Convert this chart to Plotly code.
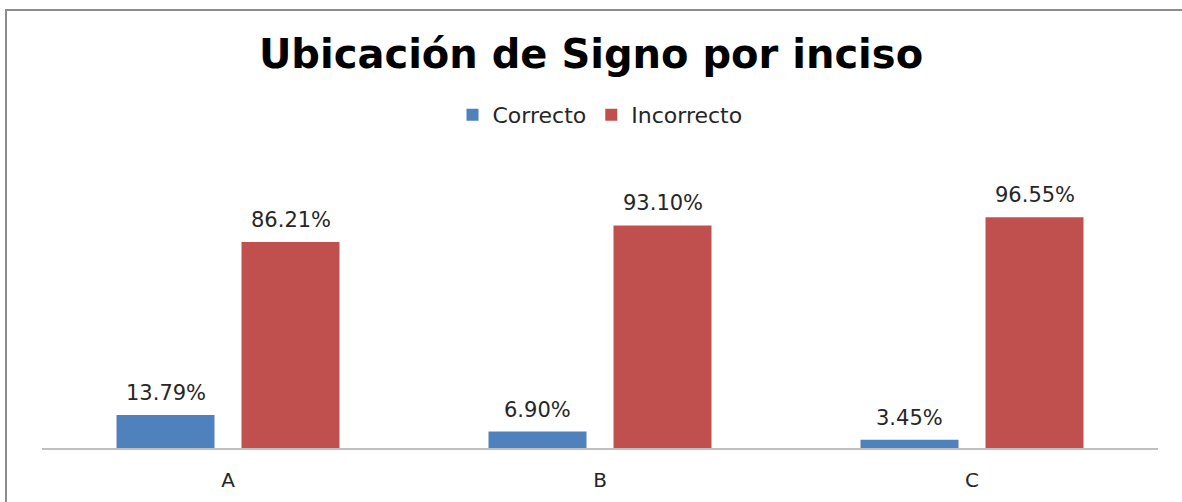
import plotly.graph_objects as go

categories = ["A", "B", "C"]
correcto = [13.79, 6.90, 3.45]
incorrecto = [86.21, 93.10, 96.55]
series_names = ["Correcto", "Incorrecto"]
colors = ["#4F81BD", "#C0504D"]

BARGAP = 0.328
GROUPGAP = 0.216
slot = (1 - BARGAP) / 2

fig = go.Figure()
annotations = []
for k, (name, vals, col) in enumerate(zip(series_names, [correcto, incorrecto], colors)):
    fig.add_trace(go.Bar(
        x=categories, y=vals, name=name, marker_color=col,
        marker_line_width=0,
    ))
    offset = (k - 0.5) * slot
    for i, v in enumerate(vals):
        annotations.append(dict(
            x=i + offset, y=v, xref="x", yref="y", text=f"{v:.2f}%",
            showarrow=False, yanchor="bottom", yshift=8,
            font=dict(family="DejaVu Sans", size=21, color="#262626"),
        ))

fig.update_layout(
    width=1182, height=502,
    paper_bgcolor="white", plot_bgcolor="white",
    margin=dict(l=42, r=24, t=209, b=54),
    barmode="group", bargap=BARGAP, bargroupgap=GROUPGAP,
    title=dict(text="<b>Ubicación de Signo por inciso</b>", x=0.5, xanchor="center",
               y=1 - 54 / 502, yanchor="middle",
               font=dict(family="DejaVu Sans", size=40, color="black")),
    legend=dict(orientation="h", x=0.5, xanchor="center",
                y=(448 - 115) / 239, yanchor="middle",
                font=dict(family="DejaVu Sans", size=22, color="#262626"),
                itemwidth=30),
    showlegend=True,
    annotations=annotations,
    xaxis=dict(showline=True, linecolor="#BFBFBF", linewidth=1.5, ticks="",
               ticklabelstandoff=13, automargin=False,
               tickfont=dict(family="DejaVu Sans", size=20, color="#262626")),
    yaxis=dict(range=[0, 100], visible=False, showgrid=False, automargin=False),
    shapes=[dict(type="rect", xref="paper", yref="paper",
                 x0=-36 / 1116, x1=1200 / 1116, y0=-80 / 239, y1=(448 - 10) / 239,
                 line=dict(color="#8C8C8C", width=2), fillcolor="rgba(0,0,0,0)")],
)

fig.write_html("out.html", config={"displayModeBar": False},
               post_script="document.body.style.margin='0';")
